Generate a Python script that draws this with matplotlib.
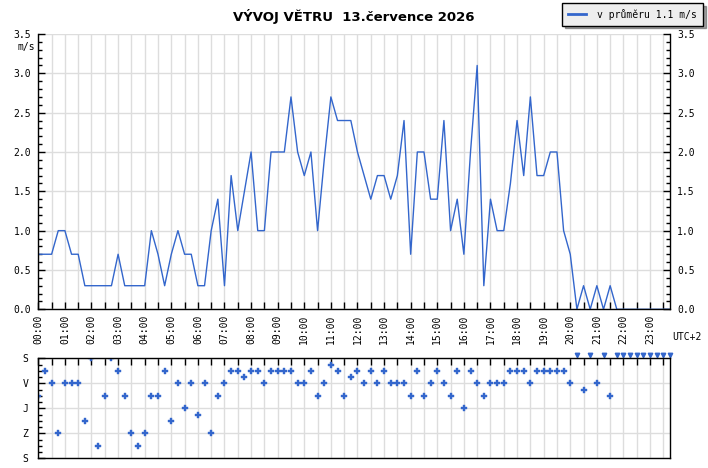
import numpy as np
import matplotlib
matplotlib.use("Agg")
import matplotlib.pyplot as plt
from matplotlib.ticker import MultipleLocator, FixedLocator

# 15 minute samples, 00:00 .. 23:45
speed = [0.7, 0.7, 0.7, 1.0, 1.0, 0.7, 0.7, 0.3, 0.3, 0.3, 0.3, 0.3,
         0.7, 0.3, 0.3, 0.3, 0.3, 1.0, 0.7, 0.3, 0.7, 1.0, 0.7, 0.7,
         0.3, 0.3, 1.0, 1.4, 0.3, 1.7, 1.0, 1.5, 2.0, 1.0, 1.0, 2.0,
         2.0, 2.0, 2.7, 2.0, 1.7, 2.0, 1.0, 1.9, 2.7, 2.4, 2.4, 2.4,
         2.0, 1.7, 1.4, 1.7, 1.7, 1.4, 1.7, 2.4, 0.7, 2.0, 2.0, 1.4,
         1.4, 2.4, 1.0, 1.4, 0.7, 2.0, 3.1, 0.3, 1.4, 1.0, 1.0, 1.6,
         2.4, 1.7, 2.7, 1.7, 1.7, 2.0, 2.0, 1.0, 0.7, 0.0, 0.3, 0.0,
         0.3, 0.0, 0.3, 0.0, 0.0, 0.0, 0.0, 0.0, 0.0, 0.0, 0.0, 0.0]

# direction in degrees, None = calm
direction = [135, 45, 90, 270, 90, 90, 90, 225, 0, 315, 135, 0,
             45, 135, 270, 315, 270, 135, 135, 45, 225, 90, 180, 90,
             202.5, 90, 270, 135, 90, 45, 45, 67.5, 45, 45, 90, 45,
             45, 45, 45, 90, 90, 45, 135, 90, 22.5, 45, 135, 67.5,
             45, 90, 45, 90, 45, 90, 90, 90, 135, 45, 135, 90,
             45, 90, 135, 45, 180, 45, 90, 135, 90, 90, 90, 45,
             45, 45, 90, 45, 45, 45, 45, 45, 90, None, 112.5, None,
             90, None, 135, None, None, None, None, None, None, None, None, None]

hours = [f"{h:02d}:00" for h in range(24)]
dir_labels = ["S", "V", "J", "Z", "S"]
avg_text = "v průměru 1.1 m/s"
title = "VÝVOJ VĚTRU  13.července 2026"

blue = "#3366cc"
grid_c = "#dddddd"
mono = "DejaVu Sans Mono"
plt.rcParams["font.family"] = mono
plt.rcParams["font.size"] = 7

t = np.arange(len(speed)) * 0.25
dir_arr = np.array([np.nan if d is None else d for d in direction], dtype=float)
calm = np.isnan(dir_arr)

fig = plt.figure(figsize=(7.08, 4.68), dpi=100)
W, H = 708.0, 468.0
x0, x1 = 38.3 / W, 670 / W
ax = fig.add_axes([x0, 1 - 309.3 / H, x1 - x0, (309.3 - 34) / H])
ax2 = fig.add_axes([x0, 1 - 458.3 / H, x1 - x0, (458.3 - 358.3) / H])

# --- speed
ax.plot(t, speed, color=blue, lw=1.0, zorder=1)
ax.set_xlim(0, 23.75)
ax.set_ylim(0, 3.5)
ax.xaxis.set_major_locator(MultipleLocator(0.5))
ax.set_xticklabels([hours[int(v)] if abs(v - round(v)) < 1e-6 and 0 <= v < 24 else ""
                    for v in ax.get_xticks()])
ax.yaxis.set_major_locator(MultipleLocator(0.5))
ax.yaxis.set_minor_locator(MultipleLocator(0.1))
ax.yaxis.set_major_formatter(lambda v, p: f"{v:.1f}")
ax.grid(True, color=grid_c, lw=1.0, zorder=0)
ax.set_axisbelow(True)
ax.spines["top"].set_visible(False)
for s in ["left", "right", "bottom"]:
    ax.spines[s].set_linewidth(1.0)
    ax.spines[s].set_zorder(3)
ax.tick_params(axis="x", direction="in", length=5, width=1, pad=4, labelrotation=90)
ax.tick_params(axis="y", which="major", direction="in", length=5, width=1,
               right=True, labelright=True, pad=5)
ax.tick_params(axis="y", which="minor", direction="in", length=3, width=1, right=True)

fig.text(26 / W, 1 - 47 / H, "m/s", ha="center", va="center", fontsize=7)
fig.text(672 / W, 1 - 337 / H, "UTC+2", ha="left", va="center", fontsize=7)
fig.text(354 / W, 1 - 16 / H, title, ha="center", va="center",
         fontsize=9.5, fontweight="bold", family="DejaVu Sans")

# legend entry with a thicker line, like the original
ax.plot([], [], color=blue, lw=2.0, label=avg_text)
leg = ax.legend(loc="upper right", bbox_to_anchor=(703 / W, 1 - 3 / H),
                bbox_transform=fig.transFigure, fancybox=False, shadow=True,
                edgecolor="black", facecolor="#eeeeee", framealpha=1,
                handlelength=1.8, handletextpad=1.2, borderpad=0.6,
                borderaxespad=0, fontsize=7)
leg.get_frame().set_linewidth(1.0)

# --- direction
ax2.plot(t, dir_arr, ls="none", marker="P", ms=4.0, color=blue, mec=blue, mew=0.3,
         zorder=2)
ax2.plot(t[calm], np.full(calm.sum(), -12), ls="none", marker="v", ms=3.2,
         color=blue, clip_on=False, zorder=2)
ax2.set_xlim(0, 23.75)
ax2.set_ylim(360, 0)
ax2.xaxis.set_major_locator(MultipleLocator(0.5))
ax2.yaxis.set_major_locator(FixedLocator([0, 90, 180, 270, 360]))
ax2.yaxis.set_minor_locator(MultipleLocator(22.5))
ax2.set_yticklabels(dir_labels)
ax2.grid(True, color=grid_c, lw=1.0, zorder=0)
ax2.set_axisbelow(True)
for s in ax2.spines.values():
    s.set_linewidth(1.0)
ax2.tick_params(axis="x", direction="in", length=5, width=1, top=True, bottom=False,
                labelbottom=False)
ax2.tick_params(axis="y", which="major", direction="in", length=5, width=1, pad=7)
ax2.tick_params(axis="y", which="minor", direction="in", length=3, width=1)

fig.savefig("out.png", dpi=100)
